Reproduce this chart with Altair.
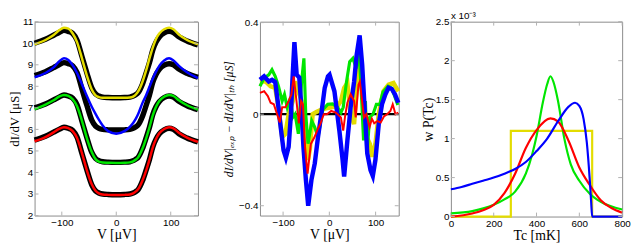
import altair as alt
import pandas as pd

# ---------------- Panel 1: dI/dV curves ----------------
V1 = [-150, -130, -115, -105, -96, -88, -80, -72, -63, -54, -45, -38, -32, -25, -15, 0,
      15, 25, 31, 36, 40, 48, 55, 61, 67, 73, 79, 88, 97, 105, 115, 130, 150]
exp_red = [5.5, 5.68, 5.87, 6.0, 6.1, 6.05, 5.95, 5.64, 4.88, 4.12, 3.43, 3.15, 3.05, 3.0, 2.98, 2.97,
           2.98, 3.0, 3.05, 3.12, 3.2, 3.6, 4.12, 4.6, 5.18, 5.55, 5.79, 5.98, 6.05, 6.0, 5.8, 5.6, 5.42]
exp_offsets = [0.0, 1.5, 3.0, 4.5]
fit_red = [5.45, 5.64, 5.86, 6.02, 6.1, 6.06, 5.92, 5.6, 4.9, 4.1, 3.45, 3.15, 3.03, 2.98, 2.96, 2.95,
           2.96, 2.98, 3.03, 3.12, 3.22, 3.62, 4.1, 4.6, 5.15, 5.55, 5.82, 6.02, 6.1, 6.05, 5.85, 5.62, 5.42]
fit_green = [6.93, 7.15, 7.35, 7.52, 7.6, 7.56, 7.4, 7.08, 6.4, 5.6, 4.95, 4.62, 4.5, 4.46, 4.45, 4.44,
             4.45, 4.47, 4.52, 4.6, 4.7, 5.1, 5.6, 6.1, 6.65, 7.05, 7.32, 7.52, 7.6, 7.55, 7.35, 7.12, 6.92]
fit_blue = [8.42, 8.62, 8.88, 9.15, 9.3, 9.22, 8.98, 8.62, 8.1, 7.55, 7.05, 6.72, 6.45, 6.18, 5.92, 5.8,
            5.92, 6.12, 6.3, 6.5, 6.7, 7.22, 7.6, 7.98, 8.35, 8.68, 8.95, 9.2, 9.3, 9.2, 8.95, 8.65, 8.38]
fit_yellow = [9.95, 10.15, 10.38, 10.6, 10.72, 10.68, 10.45, 10.05, 9.3, 8.5, 7.85, 7.58, 7.5, 7.47, 7.47, 7.47,
              7.47, 7.48, 7.52, 7.62, 7.75, 8.2, 8.75, 9.3, 9.8, 10.2, 10.45, 10.65, 10.72, 10.65, 10.4, 10.15, 9.95]

# ---------------- Panel 2: residuals ----------------
V2_blue = [-150, -141, -131, -124, -117, -110, -106, -99, -94, -88, -83, -80, -75.5, -70.6, -65, -60, -56,
           -50.7, -45.7, -38.7, -31.5, -24.5, -17.4, -10, -3, 0.4, 11, 21.7, 28.7, 32, 39, 46, 53.6, 59,
           65.5, 71, 77, 82, 89, 94, 99.6, 106.8, 113.8, 121, 128, 135, 142, 149]
R_blue = [0.15, 0.165, 0.143, 0.15, 0.14, 0.03, -0.043, -0.158, -0.19, -0.143, 0.0, 0.14, 0.315, 0.172,
          0.16, 0.014, -0.143, -0.287, -0.40, -0.287, -0.215, -0.1, 0.0, 0.115, 0.165, 0.172, 0.1, -0.072,
          -0.2, -0.272, -0.115, 0.03, 0.143, 0.258, 0.344, 0.215, 0.0, -0.172, -0.244, -0.27, -0.2, -0.043,
          0.043, 0.086, 0.115, 0.11, 0.086, 0.05]
V2_green = [-150, -141, -131, -124, -117, -110, -102, -97, -91, -84, -79, -74, -67, -60, -55, -51, -46, -38,
            -31.6, -24.5, -14, -3.4, 7, 18, 25, 30, 37, 44, 51, 58, 64, 68, 74, 78, 81.6, 87, 94.5, 101.7,
            109, 116, 127, 134, 141, 148]
R_green = [0.122, 0.158, 0.172, 0.194, 0.165, 0.122, 0.057, 0.086, 0.03, 0.072, -0.014, 0.0, -0.086, 0.14,
           0.244, 0.0, -0.129, -0.03, -0.057, -0.1, 0.02, 0.043, 0.045, 0.03, 0.007, 0.03, 0.14, 0.229, 0.244,
           0.2, 0.272, 0.143, -0.115, 0.057, -0.172, -0.014, 0.0, 0.043, 0.043, 0.097, 0.122, 0.115, 0.08, 0.04]
V2_yellow = [-150, -138, -127, -117, -110, -102, -95, -88, -79, -74, -67, -60, -56, -50, -46, -42, -36, -28,
             -17, -7, 4, 18, 25, 32, 39, 46, 53.5, 59, 64, 69, 75, 80.5, 87.6, 92.5, 99.6, 106.7, 117, 128,
             138.6, 149]
R_yellow = [0.143, 0.143, 0.122, 0.115, 0.03, -0.1, -0.086, 0.0, 0.057, 0.143, 0.1, 0.057, 0.0, -0.12, -0.2,
            -0.15, 0.0, 0.01, 0.02, 0.025, 0.03, 0.036, 0.057, 0.115, 0.136, 0.0, -0.043, 0.115, 0.22, 0.186,
            0.043, -0.1, -0.13, -0.186, -0.13, 0.0, 0.1, 0.129, 0.136, 0.1]
V2_red = [-150, -141, -133, -127, -120, -113, -107, -102, -95, -88, -82, -77, -71, -66, -61, -57, -53, -50,
          -47, -40, -32, -26, -19, -12, -5, 4, 14, 25, 30, 34, 39, 46, 53.6, 57, 63, 66, 70, 75, 80, 87, 92,
          97, 104, 111, 118, 125, 132, 137, 143, 149]
R_red = [0.093, 0.1, 0.079, 0.05, 0.043, 0.0, -0.036, 0.03, 0.03, 0.057, 0.086, 0.165, 0.057, -0.04, 0.057,
         0.043, -0.13, -0.2, -0.26, -0.13, -0.1, -0.07, -0.04, 0.0, 0.0, 0.014, 0.007, -0.014, -0.072, -0.01,
         0.05, 0.086, 0.057, -0.014, 0.129, 0.143, 0.07, -0.014, 0.0, -0.057, -0.02, -0.04, -0.03, -0.036,
         -0.01, 0.0, 0.014, 0.043, 0.0, 0.007]
V2_zero = [-150, 150]
R_zero = [0.0, 0.0]

# ---------------- Panel 3: distributions (units of 1e-3) ----------------
T_yellow = [0, 280, 280, 660, 660, 800]
P_yellow = [0.0, 0.0, 1.1, 1.1, 0.0, 0.0]
T_green = [0, 100, 200, 250, 300, 350, 380, 400, 430, 450, 465, 480, 500, 530, 560, 600, 650, 700, 800]
P_green = [0.04, 0.07, 0.15, 0.22, 0.32, 0.55, 0.8, 1.03, 1.47, 1.7, 1.8, 1.72, 1.49, 1.0, 0.67, 0.46, 0.29,
           0.19, 0.09]
T_red = [0, 100, 150, 200, 250, 300, 350, 400, 465, 500, 550, 600, 650, 700, 750, 800]
P_red = [0.0, 0.04, 0.08, 0.15, 0.3, 0.55, 0.88, 1.11, 1.26, 1.22, 0.97, 0.63, 0.4, 0.21, 0.11, 0.05]
T_blue = [0, 50, 100, 150, 200, 250, 300, 350, 400, 450, 500, 550, 580, 600, 620, 635, 648, 655, 660, 800]
P_blue = [0.35, 0.38, 0.42, 0.46, 0.5, 0.55, 0.61, 0.7, 0.84, 1.0, 1.22, 1.41, 1.46, 1.42, 1.25, 0.95, 0.5,
          0.2, 0.0, 0.0]

# tick values
x1_ticks = [-100, 0, 100]
y1_ticks = [2, 3, 4, 5, 6, 7, 8, 9, 10, 11]
x2_ticks = [-100, 0, 100]
y2_ticks = [-0.4, 0, 0.4]
x3_ticks = [0, 200, 400, 600, 800]
y3_ticks = [0, 0.5, 1, 1.5, 2, 2.5]

YEL = "#e3dc00"
GRN = "#00e600"
BLU = "#0000ff"
RED = "#ff0000"
FRAME = "#8a8a8a"

SERIF = "Liberation Serif"
SANS = "Liberation Sans"


def series_df(xs, ys, name):
    return pd.DataFrame({"x": xs, "y": ys, "s": name, "i": range(len(xs))})


def frame_ticks(xt, yt, w, h, xsc, ysc, xax, yax, L=4):
    dx = pd.DataFrame({"x": xt})
    dy = pd.DataFrame({"y": yt})
    base_x = alt.Chart(dx).mark_rule(color="#b0b0b0", strokeWidth=1)
    base_y = alt.Chart(dy).mark_rule(color="#b0b0b0", strokeWidth=1)
    X = alt.X("x:Q", scale=xsc, axis=xax)
    Y = alt.Y("y:Q", scale=ysc, axis=yax)
    return [
        base_x.encode(x=X, y=alt.value(h - L), y2=alt.value(h)),
        base_x.encode(x=X, y=alt.value(0), y2=alt.value(L)),
        base_y.encode(y=Y, x=alt.value(0), x2=alt.value(L)),
        base_y.encode(y=Y, x=alt.value(w - L), x2=alt.value(w)),
    ]


def panel(series, xsc, ysc, xax, yax, xt, yt, w, h, extra=()):
    layers = []
    for df, col, sw, interp in series:
        layers.append(alt.Chart(df).mark_line(color=col, strokeWidth=sw, interpolate=interp).encode(
            x=alt.X("x:Q", scale=xsc, axis=xax),
            y=alt.Y("y:Q", scale=ysc, axis=yax),
            detail="s:N", order="i:Q"))
    layers += list(extra)
    layers += frame_ticks(xt, yt, w, h, xsc, ysc, xax, yax)
    return alt.layer(*layers).properties(width=w, height=h)


AX = dict(labelOverlap=False, labelFlush=False)

# ---- Panel 1 ----
W1, H1 = 166, 197
xs1 = alt.Scale(domain=[-150, 150], nice=False, zero=False)
ys1 = alt.Scale(domain=[2, 11], nice=False, zero=False)
xa1 = alt.Axis(values=x1_ticks, title="V [μV]", format="d", **AX)
ya1 = alt.Axis(values=y1_ticks, title="dI/dV [μS]", titleFontSize=13, titlePadding=0, **AX)
exp_df = pd.concat([series_df(V1, [v + o for v in exp_red], f"exp{k}") for k, o in enumerate(exp_offsets)])
s1 = [(exp_df, "black", 5.5, "monotone")]
for data, col in [(fit_red, RED), (fit_green, GRN), (fit_blue, BLU), (fit_yellow, YEL)]:
    s1.append((series_df(V1, data, col), col, 2.5, "monotone"))
p1 = panel(s1, xs1, ys1, xa1, ya1, x1_ticks, y1_ticks, W1, H1)

# ---- Panel 2 ----
W2, H2 = 141, 197
xs2 = alt.Scale(domain=[-150, 150], nice=False, zero=False)
ys2 = alt.Scale(domain=[-0.443, 0.404], nice=False, zero=False)
xa2 = alt.Axis(values=x2_ticks, title="V [μV]", format="d", **AX)
ya2 = alt.Axis(values=y2_ticks, title="dI/dV|ₑₓₚ − dI/dV|ₜₕ [μS]", titleFontSize=12,
               titleFontStyle="italic", titlePadding=3, format="~g", **AX)
s2 = [(series_df(V2_zero, R_zero, "zero"), "black", 2.2, "linear")]
for xs, ys, col, sw in [(V2_yellow, R_yellow, YEL, 4.5), (V2_green, R_green, GRN, 3.2),
                        (V2_blue, R_blue, BLU, 4.5), (V2_red, R_red, RED, 2.0)]:
    s2.append((series_df(xs, ys, col), col, sw, "linear"))
p2 = panel(s2, xs2, ys2, xa2, ya2, x2_ticks, y2_ticks, W2, H2)

# ---- Panel 3 ----
W3, H3 = 174, 198
xs3 = alt.Scale(domain=[0, 800], nice=False, zero=False)
ys3 = alt.Scale(domain=[0, 2.5], nice=False, zero=False)
xa3 = alt.Axis(values=x3_ticks, title="Tc [mK]", format="d", **AX)
ya3 = alt.Axis(values=y3_ticks, title="w P(Tc)", format="~g", titlePadding=0, **AX)
s3 = [(series_df(T_yellow, P_yellow, "yellow"), YEL, 2.2, "linear"),
      (series_df(T_green, P_green, "green"), GRN, 2.2, "monotone"),
      (series_df(T_red, P_red, "red"), RED, 2.2, "monotone"),
      (series_df(T_blue, P_blue, "blue"), BLU, 2.2, "monotone")]
exp_label = alt.Chart(pd.DataFrame({"t": ["x 10⁻³"]})).mark_text(
    align="left", baseline="bottom", font=SANS, fontSize=10, color="black").encode(
    text="t:N", x=alt.value(0), y=alt.value(-1))
p3 = panel(s3, xs3, ys3, xa3, ya3, x3_ticks, y3_ticks, W3, H3, extra=[exp_label])

chart = alt.hconcat(p1, p2, p3, spacing=12).properties(
    padding={"left": 0, "top": 0, "right": 0, "bottom": 0}
).configure_view(stroke=FRAME, strokeWidth=1).configure_axis(
    grid=False, domain=False, ticks=False, labelFont=SANS, labelFontSize=10, labelColor="black",
    labelPadding=2, labelOverlap=False, titleFont=SERIF, titleFontSize=14, titleFontWeight="normal",
    titleColor="black", titlePadding=2
).configure_axisX(titlePadding=0)

chart.save("out.html", embed_options={"renderer": "svg", "actions": False})
